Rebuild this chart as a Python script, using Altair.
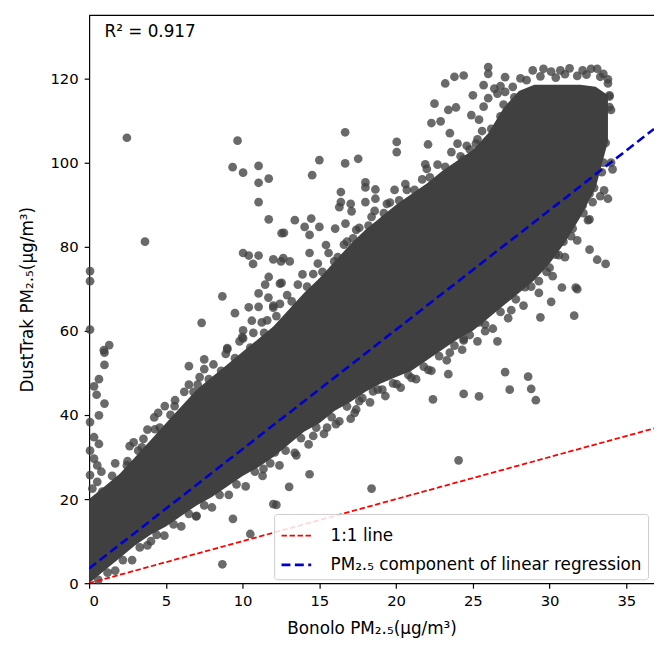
import altair as alt
import pandas as pd

# ---------------- data ----------------
X_MAX = 36.8
Y_MAX = 135

x_ticks = [0, 5, 10, 15, 20, 25, 30, 35]
y_ticks = [0, 20, 40, 60, 80, 100, 120]

# dense, fully overlapped core of the point cloud (lower / upper envelope)
core_x = [0, 1, 2, 3, 4, 5, 6, 7, 8, 9, 10, 11, 12, 13, 14, 15, 16, 17, 18, 19,
          20, 21, 22, 23, 24, 25, 26, 27, 28, 29, 30, 31, 32, 33, 33.8]
core_upper = [20, 23, 26, 30, 34, 38, 42, 46, 49, 52, 55, 58, 61, 65, 69, 72.5,
              76.5, 80.5, 84, 87, 90, 92.5, 95, 98, 100.5, 103, 107, 113, 117, 118.5,
              118.5, 118.5, 118.5, 118, 116]
core_lower = [0, 3, 6, 9, 11.5, 13.5, 16, 18.5, 20.5, 23, 25.5, 27.5, 30, 33, 36, 38,
              41, 43, 45.5, 47.5, 49, 50.5, 53, 55.5, 58, 60, 63, 66, 69, 72, 76, 81,
              87, 94, 105]

# individual points outside the core
outliers = [(2.46, 105.9), (9.67, 105.2), (9.35, 98.9), (10.03, 97.6), (11.04, 99.2),
            (11.7, 96.2), (11.04, 95.2), (11.04, 90.6), (11.7, 86.5), (12.54, 83.2),
            (3.64, 81.2), (10.03, 78.5), (10.4, 77.9), (11.04, 77.9), (10.68, 75.9),
            (12.0, 77.0), (12.5, 76.5), (11.7, 72.8), (11.47, 71.0), (12.43, 71.2),
            (8.68, 68.2), (11.04, 68.9), (11.68, 67.9), (10.4, 65.6), (9.5, 64.2),
            (11.04, 65.7), (12.0, 66.0), (7.33, 61.9), (10.03, 60.1), (10.6, 62.4),
            (11.25, 62.0), (10.03, 58.2), (9.0, 55.9), (9.97, 58.5), (9.0, 55.6),
            (16.68, 107.2), (20.04, 104.9), (20.04, 102.5), (15.0, 100.6), (16.68, 99.8),
            (17.53, 100.9), (14.53, 97.0), (22.08, 104.3), (23.4, 112.5), (23.9, 113.1),
            (22.9, 109.8), (23.5, 107.0), (22.3, 109.4), (18.0, 95.3), (18.0, 94.1),
            (18.65, 93.6), (16.4, 93.0), (16.4, 90.6), (17.04, 90.2), (17.1, 88.4),
            (18.0, 90.6), (18.65, 91.4), (19.4, 90.2), (20.6, 94.9), (21.9, 99.6),
            (18.4, 87.1), (16.3, 89.4), (14.47, 86.7), (14.04, 84.7), (15.0, 84.7),
            (14.36, 82.8), (13.4, 86.3), (12.69, 83.3), (16.03, 84.3), (16.7, 85.5),
            (17.4, 84.0), (15.43, 80.4), (14.36, 78.5), (12.65, 77.3), (13.07, 76.5),
            (13.9, 73.4), (12.54, 71.4), (14.36, 67.9), (12.43, 66.4), (15.97, 76.5),
            (16.8, 81.2), (23.2, 118.8), (23.8, 120.4), (22.5, 114.0),
            (24.9, 111.3), (25.7, 113.3), (26.0, 115.3), (27.1, 116.8), (26.6, 116.4),
            (26.4, 117.6), (25.7, 118.4), (25.4, 110.2), (24.8, 103.1), (25.3, 105.5),
            (26.4, 107.0), (27.0, 104.9), (24.4, 100.8),
            # lower side
            (4.03, 10.0), (8.68, 4.5), (9.37, 15.3), (10.5, 11.7), (12.0, 18.8),
            (6.97, 15.9), (12.1, 31.1), (11.36, 27.2),
            (24.4, 57.7), (23.5, 54.8), (23.4, 49.7), (24.4, 45.0), (22.4, 43.7),
            (22.1, 50.7), (21.0, 48.8), (20.04, 47.3), (19.1, 46.0), (18.5, 45.6),
            (17.6, 43.3), (17.4, 41.3), (17.04, 39.1), (16.08, 37.8), (15.5, 37.0),
            (14.6, 35.0), (13.5, 30.4), (14.36, 25.9), (13.03, 22.9), (18.4, 22.5),
            (24.07, 29.2), (12.2, 18.6),
            (30.8, 70.3), (31.8, 69.9), (30.1, 66.9), (29.4, 63.2), (31.6, 63.6),
            (28.4, 70.4), (26.6, 57.5), (25.8, 59.9), (25.4, 62.0), (24.4, 58.1),
            (26.6, 66.7), (27.5, 64.9), (27.1, 50.2), (28.6, 49.1), (27.4, 46.0),
            (28.8, 46.2), (29.1, 43.5), (25.4, 44.4),
            # right side
            (33.55, 93.4), (33.8, 91.4), (32.5, 86.3), (32.6, 79.3), (33.1, 76.9),
            (33.65, 75.9), (31.7, 70.3), (34.1, 98.4), (34.0, 112.5), (33.9, 115.7),
            (33.8, 118.8), (31.5, 87.5), (32.15, 89.8), (32.8, 90.6), (32.6, 92.6),
            (33.4, 97.7), (33.2, 101.6), (33.65, 104.7), (33.4, 108.6), (31.5, 84.3),
            (30.9, 81.2), (30.4, 78.1), (30.0, 75.0), (29.3, 71.8)]

# column of points along the y axis
left_column = [(0.06, 74.2), (0.06, 71.8), (0.06, 60.3), (1.31, 56.6), (0.96, 55.4),
               (1.0, 54.8), (1.0, 51.9), (0.64, 48.5), (0.32, 46.8), (0.49, 44.8),
               (1.0, 42.7), (0.64, 39.9), (0.06, 38.3), (0.32, 34.7), (0.64, 33.1),
               (0.06, 31.5), (0.32, 29.6), (0.53, 28.0), (0.06, 25.7), (0.53, 24.1),
               (0.21, 22.5), (0.86, 21.8)]

# points on the upper edge of the core
upper_fringe = [(2.64, 32.6), (2.46, 28.0), (3.43, 32.3), (4.24, 39.4), (4.93, 42.1),
                (5.57, 42.1), (6.5, 51.6), (6.5, 47.2), (7.5, 53.2), (7.5, 50.9),
                (7.07, 47.2), (4.29, 36.6), (3.54, 34.3),
                (1.5, 25.5), (2.5, 29.0), (3.2, 31.5), (4.6, 37.0), (5.3, 40.0),
                (6.8, 45.5), (7.8, 48.5), (8.6, 50.5), (9.5, 53.5), (10.5, 56.0),
                (11.4, 59.5), (12.2, 63.5), (13.2, 67.0), (14.2, 70.5), (15.2, 74.0),
                (16.2, 77.5), (17.2, 82.0), (18.2, 85.0), (19.2, 88.0), (20.2, 91.0),
                (21.2, 93.5), (22.2, 96.5), (23.2, 99.0), (24.2, 101.5), (25.2, 104.5),
                (26.2, 108.0),
                (0.8, 26.5), (1.7, 28.5), (2.9, 33.5), (3.8, 36.5), (4.5, 40.5),
                (5.6, 43.5), (6.2, 45.5), (7.2, 49.0), (8.1, 52.0), (8.9, 54.5),
                (9.8, 57.5), (10.7, 59.5), (11.6, 62.5), (12.9, 68.5), (13.6, 71.0),
                (14.6, 73.5), (15.6, 78.5), (16.6, 80.5), (17.6, 84.5), (18.6, 88.5),
                (19.6, 90.5), (20.7, 93.5), (21.7, 96.0), (22.7, 99.5), (23.6, 102.5),
                (24.6, 104.0), (25.6, 107.5), (26.8, 111.0), (12.0, 65.5), (14.9, 76.0),
                (19.9, 93.5), (22.0, 98.5), (24.0, 104.5)]

# points on the lower edge of the core
lower_fringe = [(1.2, 2.5), (2.2, 5.5), (3.3, 8.5), (4.4, 11.5), (5.5, 14.0),
                (6.5, 16.5), (7.5, 18.5), (8.5, 21.0), (9.6, 23.5), (10.8, 26.5),
                (11.8, 28.5), (12.8, 31.5), (13.8, 34.5), (14.8, 37.0), (15.8, 39.5),
                (16.8, 42.0), (17.8, 44.0), (18.8, 46.0), (19.8, 47.5), (20.8, 49.5),
                (21.8, 51.5), (22.8, 54.0), (23.8, 56.5), (24.8, 59.0), (25.8, 61.5),
                (26.8, 64.5), (27.8, 67.5), (28.8, 70.5), (29.8, 74.0), (30.6, 78.0),
                (31.4, 82.5), (32.2, 88.0), (32.9, 94.0), (33.5, 100.0),
                (0.6, 0.8), (1.7, 3.0), (2.8, 5.5), (3.8, 9.0), (4.9, 11.3),
                (6.0, 13.5), (7.0, 16.0), (8.0, 18.0), (9.1, 21.0), (10.2, 23.0),
                (11.3, 25.5), (12.4, 28.0), (13.4, 31.0), (14.3, 33.0), (15.3, 35.5),
                (16.3, 38.5), (17.3, 40.5), (18.3, 43.0), (19.3, 44.5), (20.3, 46.5),
                (21.3, 48.5), (22.3, 50.5), (23.3, 53.0), (24.3, 55.5), (25.3, 57.5),
                (26.3, 60.5), (27.3, 63.0), (28.3, 66.0), (29.3, 69.0), (30.2, 73.0),
                (31.0, 77.5), (31.8, 81.5), (32.6, 86.5), (33.3, 92.0), (34.0, 100.0)]

# the loose cluster at the top right
top_cluster = [(26.0, 122.7), (26.0, 121.1), (27.1, 120.3), (28.1, 120.0), (28.9, 121.9),
               (29.6, 122.3), (30.1, 121.6), (30.7, 121.9), (31.3, 122.4), (32.15, 121.9),
               (32.7, 122.3), (33.1, 122.3), (33.5, 121.1), (24.4, 120.7), (28.5, 119.6),
               (29.4, 120.5), (30.4, 120.2), (31.0, 121.0), (31.8, 120.6), (32.4, 120.9),
               (33.3, 120.4), (33.8, 119.8), (27.6, 118.0), (26.8, 118.2), (27.7, 115.5),
               (33.9, 116.0), (33.9, 113.2), (27.0, 113.8), (25.0, 116.0)]

# reference lines (end points)
series_names = ["1:1 line", "PM\u2082.\u2085 component of linear regression"]
line_x = [0, X_MAX]
one_to_one_y = [0, X_MAX]
regression_y = [3.5, 108.0]
series_colors = ["#ff0000", "#0000cc"]

r2_label = "R\u00b2 = 0.917"

# ---------------- tables ----------------
core_df = pd.DataFrame({"x": core_x, "lo": core_lower, "hi": core_upper})
all_pts = outliers + left_column + upper_fringe + lower_fringe + top_cluster
pts_df = pd.DataFrame(all_pts, columns=["x", "y"])
lines_df = pd.DataFrame({
    "x": line_x + line_x,
    "y": one_to_one_y + regression_y,
    "series": [series_names[0]] * 2 + [series_names[1]] * 2,
})
text_df = pd.DataFrame({"x": [1.0], "y": [131.0], "t": [r2_label]})

FONT = "DejaVu Sans"

xscale = alt.Scale(domain=[0, X_MAX], nice=False, zero=False)
yscale = alt.Scale(domain=[0, Y_MAX], nice=False, zero=False)

xaxis = alt.Axis(values=x_ticks, title="Bonolo PM\u2082.\u2085(\u03bcg/m\u00b3)", grid=False,
                 labelPadding=6, titlePadding=12)
yaxis = alt.Axis(values=y_ticks, title="DustTrak PM\u2082.\u2085(\u03bcg/m\u00b3)", grid=False,
                 labelPadding=6, titlePadding=14)

core = alt.Chart(core_df).mark_area(color="#404040", opacity=1).encode(
    x=alt.X("x:Q", scale=xscale, axis=xaxis),
    y=alt.Y("lo:Q", scale=yscale, axis=yaxis),
    y2="hi:Q",
)

points = alt.Chart(pts_df).mark_circle(color="#404040", opacity=0.78, size=78).encode(
    x=alt.X("x:Q", scale=xscale),
    y=alt.Y("y:Q", scale=yscale),
)

lines = alt.Chart(lines_df).mark_line(clip=True).encode(
    x=alt.X("x:Q", scale=xscale),
    y=alt.Y("y:Q", scale=yscale),
    color=alt.Color("series:N",
                    scale=alt.Scale(domain=series_names, range=series_colors),
                    legend=alt.Legend(title=None)),
    strokeDash=alt.StrokeDash("series:N",
                              scale=alt.Scale(domain=series_names, range=[[5.5, 2.6], [9, 4.5]]),
                              legend=alt.Legend(title=None)),
    strokeWidth=alt.StrokeWidth("series:N",
                                scale=alt.Scale(domain=series_names, range=[1.8, 2.6]),
                                legend=None),
)

r2 = alt.Chart(text_df).mark_text(align="left", baseline="middle", font=FONT,
                                  fontSize=17, color="#000000").encode(
    x=alt.X("x:Q", scale=xscale),
    y=alt.Y("y:Q", scale=yscale),
    text="t:N",
)

top_border = alt.Chart(text_df).mark_rule(color="#000000", strokeWidth=1.2).encode(
    y=alt.value(0)
)

chart = alt.layer(core, points, lines, r2, top_border).properties(
    width=571,
    height=574,
    autosize=alt.AutoSizeParams(type="none"),
    padding={"left": 82, "top": 4, "right": 0, "bottom": 55},
).configure_view(
    stroke=None
).configure_axis(
    labelFont=FONT, labelFontSize=15, labelColor="#000000",
    titleFont=FONT, titleFontSize=17, titleFontWeight="normal", titleColor="#000000",
    domainColor="#000000", domainWidth=1.2, tickColor="#000000", tickWidth=1.2,
    tickSize=5,
).configure_legend(
    orient="none", legendX=187, legendY=504,
    labelFont=FONT, labelFontSize=17, labelColor="#000000", labelLimit=500,
    symbolType="stroke", symbolSize=900, symbolStrokeWidth=2.2,
    padding=6, rowPadding=5, labelOffset=18,
    fillColor="rgba(255,255,255,0.85)", strokeColor="#cccccc", cornerRadius=3,
)

chart.save("out.html", embed_options={"renderer": "svg", "actions": False})
